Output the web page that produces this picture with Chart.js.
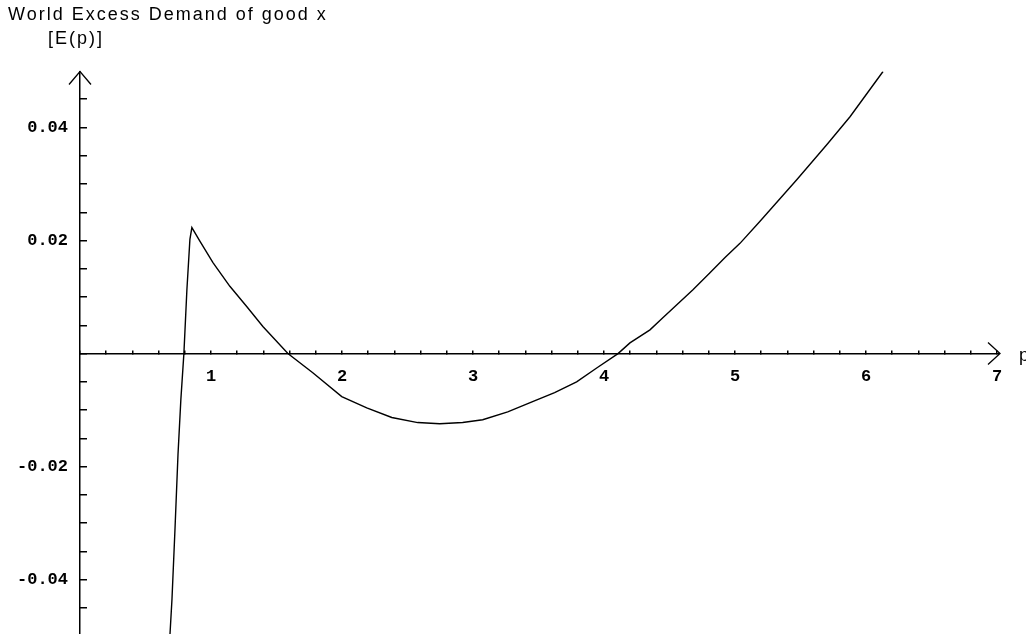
<!DOCTYPE html>
<html>
<head>
<meta charset="utf-8">
<script src="https://cdn.jsdelivr.net/npm/chart.js@4"></script>
<style>
  html, body { margin: 0; padding: 0; background: #fff; overflow: hidden; }
  #wrap { width: 1026px; height: 634px; }
</style>
</head>
<body>
<div id="wrap"><canvas id="excessChart" width="1026" height="634"></canvas></div>
<script>
const chartTitle = 'World Excess Demand of good x'
const yName = '[E(p)]'
const xName = 'p'

// price p and world excess demand E(p)
const prices = [0.687, 0.702, 0.725, 0.748, 0.770, 0.793, 0.816, 0.839, 0.854,
    0.915, 1.015, 1.144, 1.274, 1.396, 1.587, 1.777, 1.998, 2.189, 2.380, 2.578,
    2.746, 2.921, 3.074, 3.265, 3.455, 3.623, 3.791, 3.947, 4.107, 4.198, 4.351,
    4.443, 4.679, 4.809, 4.924, 5.038, 5.191, 5.473, 5.702, 5.878, 6.130]
const excessDemand = [-0.0496, -0.0435, -0.0311, -0.0179, -0.0081, 0, 0.0113, 0.0202, 0.0223,
    0.0199, 0.0161, 0.0119, 0.0083, 0.0048, 0, -0.0034, -0.0076, -0.0096, -0.0113, -0.0122,
    -0.0124, -0.0122, -0.0117, -0.0103, -0.0085, -0.0069, -0.0050, -0.0025, 0, 0.0019, 0.0042,
    0.0062, 0.0113, 0.0143, 0.0170, 0.0195, 0.0234, 0.0308, 0.0370, 0.0419, 0.0499]

const xTickLabels = ['1', '2', '3', '4', '5', '6', '7']
const yTickLabels = ['0.04', '0.02', '-0.02', '-0.04']

const tickFont = { family: '"Liberation Mono", monospace', size: 17, weight: 'bold' }

// drop the label overhang so the plot area sits where the padding puts it
const noOverhang = (s) => {
    s.paddingTop = 0
    s.paddingBottom = 0
    s.paddingLeft = 0
    s.paddingRight = 0
}

const axisDecor = {
    id: 'axisDecor',
    afterDraw(chart) {
        const { ctx, scales: { x, y } } = chart
        const x0 = x.getPixelForValue(0)
        const y0 = y.getPixelForValue(0)
        const tipX = x.right + 3
        const tipY = y.top
        ctx.save()
        ctx.strokeStyle = '#000'
        ctx.lineWidth = 1.3
        ctx.beginPath()
        ctx.moveTo(x0 - 11, tipY + 13)
        ctx.lineTo(x0, tipY)
        ctx.lineTo(x0 + 11, tipY + 13)
        ctx.moveTo(x.right, y0)
        ctx.lineTo(tipX, y0)
        ctx.moveTo(tipX - 12, y0 - 11)
        ctx.lineTo(tipX, y0)
        ctx.lineTo(tipX - 12, y0 + 11)
        ctx.stroke()

        ctx.fillStyle = '#000'
        ctx.font = '18px "Liberation Sans", Arial, sans-serif'
        ctx.letterSpacing = '2px'
        ctx.textBaseline = 'middle'
        ctx.textAlign = 'left'
        ctx.fillText(chartTitle, 8, 15)
        ctx.textAlign = 'center'
        ctx.fillText(yName, x0 - 4, tipY - 32)
        ctx.textAlign = 'left'
        ctx.fillText(xName, tipX + 19, y0 + 2)
        ctx.restore()
    }
}

new Chart(document.getElementById('excessChart'), {
    type: 'scatter',
    data: {
        datasets: [{
            data: prices.map((p, i) => ({ x: p, y: excessDemand[i] })),
            showLine: true,
            borderColor: '#000',
            borderWidth: 1.4,
            pointRadius: 0,
            tension: 0,
            fill: false
        }]
    },
    options: {
        responsive: false,
        animation: false,
        events: [],
        layout: { padding: { left: 0, right: 29, top: 71.5, bottom: 0 } },
        plugins: {
            legend: { display: false },
            tooltip: { enabled: false }
        },
        scales: {
            x: {
                type: 'linear',
                position: { y: 0 },
                min: 0,
                max: 7,
                afterFit: (s) => { s.height = 0; noOverhang(s) },
                border: { display: true, color: '#000', width: 1.5 },
                grid: { drawOnChartArea: false, drawTicks: true, tickLength: -4, color: '#000', lineWidth: 1.5 },
                ticks: {
                    stepSize: 0.2,
                    autoSkip: false,
                    includeBounds: false,
                    maxRotation: 0,
                    padding: 17,
                    color: '#000',
                    font: tickFont,
                    callback: (v) => {
                        const r = Math.round(v)
                        return Math.abs(v - r) < 1e-6 && xTickLabels.includes(String(r)) ? String(r) : ''
                    }
                }
            },
            y: {
                type: 'linear',
                position: 'left',
                min: -0.0496,
                max: 0.0499,
                afterFit: (s) => { s.width = 80; noOverhang(s) },
                border: { display: true, color: '#000', width: 1.5 },
                grid: { drawOnChartArea: false, drawTicks: true, tickLength: -7, color: '#000', lineWidth: 1.5 },
                ticks: {
                    stepSize: 0.005,
                    autoSkip: false,
                    includeBounds: false,
                    padding: 19,
                    color: '#000',
                    font: tickFont,
                    callback: (v) => {
                        const s = (Math.abs(v) < 1e-9 ? 0 : v).toFixed(2)
                        const onGrid = Math.abs(v / 0.02 - Math.round(v / 0.02)) < 1e-6
                        return onGrid && yTickLabels.includes(s) ? s : ''
                    }
                }
            }
        }
    },
    plugins: [axisDecor]
})
</script>
</body>
</html>
